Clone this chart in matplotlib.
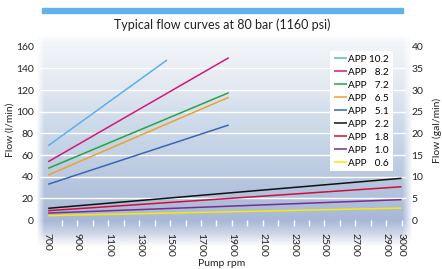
import numpy as np
import matplotlib
matplotlib.use("Agg")
import matplotlib.pyplot as plt
from matplotlib.patches import Rectangle
from matplotlib.ticker import FixedLocator

plt.rcParams['font.family'] = ['Lato', 'DejaVu Sans']

# pump models and flow readings (l/min) at first and last rpm
models = ['APP 10.2', 'APP \u20078.2', 'APP \u20077.2', 'APP \u20076.5', 'APP \u20075.1',
          'APP \u20072.2', 'APP \u20071.8', 'APP \u20071.0', 'APP \u20070.6']
rpm_from = [710, 710, 710, 710, 710, 710, 710, 710, 710]
rpm_to = [1480, 1880, 1880, 1880, 1880, 3000, 3000, 3000, 3000]
flow_from = [68.6, 53.8, 47.7, 41.5, 33.0, 10.8, 8.6, 6.4, 4.0]
flow_to = [147.7, 149.8, 117.5, 113.3, 87.7, 38.5, 30.7, 18.8, 11.0]
colors = ['#5bb0e8', '#d4177a', '#22a545', '#eea032', '#3b64b4',
          '#111111', '#d0103a', '#7b2d8e', '#f5ec00']

x_labels = [700, 900, 1100, 1300, 1500, 1700, 1900, 2100, 2300, 2500, 2700, 2900, 3000]
y_left = [0, 20, 40, 60, 80, 100, 120, 140, 160]
y_right = [0, 5, 10, 15, 20, 25, 30, 35, 40]

W, H = 442, 269
fig = plt.figure(figsize=(W / 100, H / 100), dpi=100)

# watery background panel: soft gradient fading to white at edges
bx0, bx1, by0, by1 = 36, 412, 34, 246
bg = fig.add_axes([bx0 / W, 1 - by1 / H, (bx1 - bx0) / W, (by1 - by0) / H])
bg.axis('off')
rows = np.arange(by0, by1)
stops_y = [34, 80, 120, 160, 200, 220, 232, 246]
stops_c = np.array([[0.96, 0.97, 0.98], [0.90, 0.92, 0.95], [0.81, 0.86, 0.92],
                    [0.75, 0.81, 0.89], [0.69, 0.75, 0.86], [0.66, 0.72, 0.85],
                    [0.80, 0.83, 0.90], [1.0, 1.0, 1.0]])
col = np.stack([np.interp(rows, stops_y, stops_c[:, i]) for i in range(3)], axis=1)
img = np.ones((len(rows), bx1 - bx0, 4))
img[:, :, :3] = col[:, None, :]
cols = np.arange(bx0, bx1)
a_x = np.clip(np.minimum((cols - bx0) / 8.0, (bx1 - cols) / 10.0), 0, 1)
a_y = np.clip((rows - by0) / 8.0, 0, 1)
img[:, :, 3] = a_y[:, None] * a_x[None, :]
bg.imshow(img, aspect='auto', extent=[0, 1, 0, 1], interpolation='bilinear')

ax = fig.add_axes([40 / W, 1 - 220 / H, 366 / W, (220 - 46.7) / H])
ax.patch.set_alpha(0)
for i in range(len(models)):
    ax.plot([rpm_from[i], rpm_to[i]], [flow_from[i], flow_to[i]],
            color=colors[i], lw=1.1, label=models[i], solid_capstyle='butt')

ax.set_xlim(657, 3029)
ax.set_ylim(0, 160)
for s in ax.spines.values():
    s.set_visible(False)
for v in y_left[1:-1]:
    ax.axhline(v, color='white', lw=1.0, zorder=0.5)

ax.set_yticks(y_left)
ax.tick_params(axis='y', length=0, pad=4.5, labelsize=7.5, colors='#222222')
ax.set_xticks(x_labels)
ax.set_xticklabels([str(v) for v in x_labels], rotation=270, va='top', ha='center')
ax.tick_params(axis='x', which='major', length=0, pad=9.5, labelsize=7.5, colors='#222222')
ax.xaxis.set_minor_locator(FixedLocator(list(range(800, 3001, 100))))
ax.xaxis.remove_overlapping_locs = False
ax.tick_params(axis='x', which='minor', length=4.5, width=1.0, color='white', direction='out')

ax2 = ax.twinx()
ax2.set_ylim(0, 40)
ax2.set_yticks(y_right)
for s in ax2.spines.values():
    s.set_visible(False)
ax2.tick_params(axis='y', length=0, pad=4, labelsize=7.5, colors='#222222')

leg = ax.legend(loc='upper left', bbox_to_anchor=(330 / W, 1 - 51 / H),
                bbox_transform=fig.transFigure, fontsize=7.2, frameon=True,
                fancybox=False, framealpha=1, facecolor='white', edgecolor='none',
                handlelength=1.3, handletextpad=0.2, labelspacing=0.4,
                borderpad=0.35, borderaxespad=0)
leg.set_zorder(10)

fig.patches.append(Rectangle((42 / W, 1 - 13 / H), 361 / W, 5 / H,
                             transform=fig.transFigure, color='#5fb3ea'))
fig.text(222 / W, 1 - 25 / H, 'Typical flow curves at 80 bar (1160 psi)',
         ha='center', va='center', fontsize=9, color='#222222')
fig.text(222 / W, 1 - 263 / H, 'Pump rpm', ha='center', va='center', fontsize=7.5, color='#222222')
fig.text(10 / W, 1 - 130 / H, 'Flow (l/min)', rotation=90, ha='center', va='center',
         fontsize=7.5, color='#222222')
fig.text(437 / W, 1 - 130 / H, 'Flow (gal/min)', rotation=90, ha='center', va='center',
         fontsize=7.5, color='#222222')

fig.savefig('out.png', dpi=100)
